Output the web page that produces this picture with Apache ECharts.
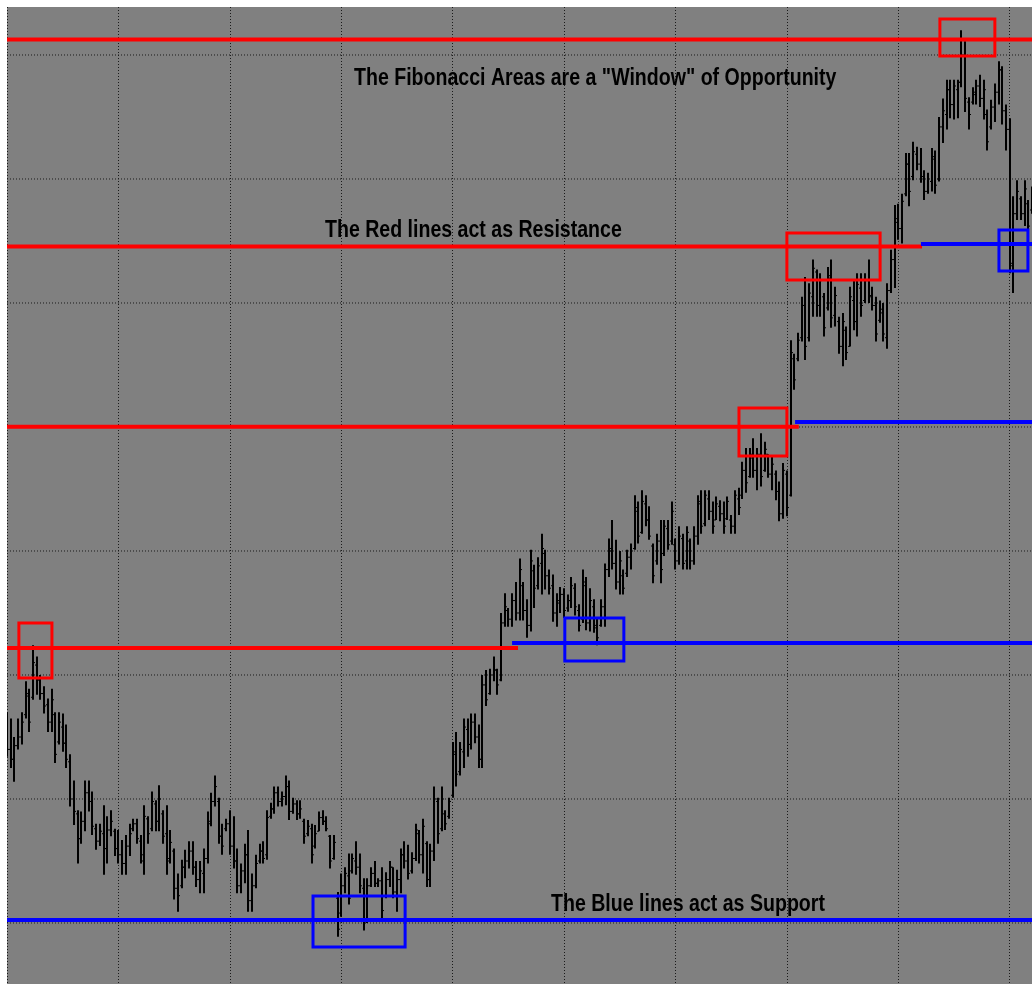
<!DOCTYPE html>
<html>
<head>
<meta charset="utf-8">
<title>Fibonacci Areas</title>
<script src="https://cdn.jsdelivr.net/npm/echarts@6.0.0/dist/echarts.min.js"></script>
<style>
  html, body { margin: 0; padding: 0; background: #fff; }
  #chart { width: 1032px; height: 984px; }
</style>
</head>
<body>
<div id="chart"></div>
<script>
// one OHLC bar per index, prices in chart units (a grid line every 100)
const opens = [
  250,240,232,243,250,268,283,282,308,296, 285,276,262,268,246,258,245,230,200,188,
  168,182,205,198,176,166,172,160,175,174, 160,155,148,162,176,180,166,150,184,176,
  196,182,188,172,152,158,128,130,145,150, 158,145,135,140,152,182,198,198,170,176,
  180,162,150,130,142,155,118,130,150,158, 155,186,192,205,198,202,210,190,196,188,
  182,172,176,162,174,185,182,170,152,120, 108,130,138,142,150,145,128,102,130,140,
  132,134,122,135,145,125,135,155,150,142, 152,172,155,164,135,158,198,176,188,186,
  203,236,222,238,256,244,262,250,232,292, 285,300,304,296,342,352,345,360,350,372,
  352,340,384,372,390,398,380,372,350,358, 365,354,360,370,352,345,372,342,355,338,
  340,355,385,400,390,375,380,382,395,402, 432,415,438,425,404,392,408,398,418,408,
  405,392,410,392,408,392,412,438,422,442, 432,425,436,430,426,425,420,442,445,465,
  460,475,465,478,465,478,462,462,448,430, 462,445,555,555,572,598,572,605,625,598,
  605,596,620,590,585,565,578,565,602,585, 612,602,618,606,598,586,592,572,610,635,
  665,660,688,712,702,720,712,702,690,698, 716,700,742,752,772,760,772,778,800,762,
  762,768,775,765,752,742,758,770,788,755, 740,630,672,684,672,680,675
];
const highs = [
  270,265,250,265,270,295,289,324,315,300, 291,281,289,270,270,269,260,236,215,191,
  190,215,215,206,180,180,195,186,191,176, 175,167,171,180,184,184,171,195,186,206,
  199,211,191,195,175,160,140,151,159,166, 166,150,150,160,190,205,219,201,180,184,
  191,186,160,148,164,175,140,155,164,166, 191,197,210,210,206,219,215,201,199,199,
  184,183,180,179,190,191,186,171,171,125, 140,145,156,156,166,156,136,136,145,150,
  136,145,141,150,145,143,160,166,163,157, 180,175,184,166,164,210,201,210,191,201,
  246,254,246,265,265,269,269,260,300,304, 305,315,305,350,366,354,366,375,394,375,
  361,401,389,395,414,401,385,381,366,371, 370,365,379,374,357,385,379,370,361,346,
  361,390,410,425,409,400,385,401,406,445, 440,449,445,436,406,414,425,425,425,440,
  410,420,414,420,410,420,445,449,449,449, 440,444,441,440,444,429,449,451,472,483,
  483,491,483,495,488,478,477,465,456,471, 465,570,559,576,605,621,616,635,627,624,
  608,629,635,613,589,592,581,613,619,624, 624,624,635,613,605,602,600,616,643,679,
  680,688,721,721,730,726,725,707,705,725, 723,750,765,780,780,780,780,820,811,766,
  774,780,784,780,756,764,777,795,791,760, 749,686,699,686,699,683,694
];
const lows = [
  234,225,214,240,244,265,254,280,284,280, 269,254,254,229,244,238,225,194,179,148,
  164,174,190,171,159,162,139,148,170,154, 148,139,139,154,174,164,148,139,164,174,
  174,174,164,139,148,119,109,128,136,144, 139,129,124,124,148,178,194,164,155,174,
  155,144,124,124,132,109,109,128,148,148, 151,184,188,194,194,195,183,188,183,184,
  164,170,148,160,174,179,174,144,151,89,  105,124,115,140,139,124,94,100,129,129,
  129,104,120,129,120,109,124,144,135,140, 150,148,140,129,129,150,164,174,175,184,
  201,210,219,225,234,240,245,225,225,275, 284,295,284,295,339,339,339,344,344,344,
  330,335,354,369,365,369,365,343,339,350, 346,351,354,348,335,342,336,335,334,324,
  339,339,379,385,369,365,365,379,385,401, 406,414,420,409,374,389,374,396,401,405,
  385,389,385,385,385,389,405,414,420,425, 414,425,424,414,425,414,414,429,442,447,
  459,459,449,452,464,459,449,441,424,426, 428,444,530,553,569,554,569,589,589,589,
  573,594,580,581,559,549,554,565,578,573, 589,600,600,594,569,584,569,563,608,612,
  651,648,686,678,699,707,697,683,688,690, 688,698,729,740,749,748,749,774,754,740,
  760,760,758,748,723,740,746,760,744,723, 624,608,667,667,662,656,672
];
const closes = [
  240,232,243,250,262,285,262,310,296,285, 275,262,280,236,262,245,232,200,190,168,
  182,205,198,178,166,174,160,175,182,160, 155,148,162,172,180,168,155,186,172,198,
  182,200,170,150,165,128,122,145,150,158, 145,135,142,152,180,198,210,170,162,180,
  162,150,130,142,155,118,130,148,158,152, 185,192,205,198,202,210,190,196,188,192,
  170,178,155,172,185,182,176,150,165,95,  130,140,120,152,145,130,100,130,140,132,
  134,110,135,145,125,135,155,150,140,152, 175,155,178,135,158,200,172,200,180,198,
  238,220,240,258,244,262,250,232,292,280, 300,304,292,342,355,345,360,350,385,352,
  340,392,370,388,402,380,370,350,360,365, 352,360,372,355,340,375,342,360,340,330,
  355,385,402,390,375,392,370,395,400,435, 412,440,425,412,380,408,385,420,405,432,
  392,412,390,415,392,412,440,420,445,432, 420,438,430,420,440,420,445,435,465,455,
  478,465,478,460,482,462,470,448,430,465, 435,560,538,570,598,565,608,628,598,618,
  580,622,588,606,565,585,560,605,585,615, 598,618,605,598,575,595,575,610,635,668,
  660,682,712,690,722,712,702,690,700,718, 695,742,755,772,760,775,778,800,765,752,
  770,775,765,772,730,758,770,788,755,740, 632,672,690,672,692,662,688
];

// horizontal dotted grid levels
const priceGrid = [100, 200, 300, 400, 500, 600, 700, 800];

// levels: [fromBar, toBar, price]
const resistance = [
  [0, 276, 812.5],
  [0, 246.4, 645.6],
  [0, 213.2, 500.2],
  [0, 137.6, 321.8]
];
const support = [
  [246.1, 276, 647.6],
  [212.2, 276, 504],
  [136, 276, 325.8],
  [0, 276, 102.4]
];

// boxes: [fromBar, toBar, lowPrice, highPrice]
const redBoxes = [
  [3.2, 12.1, 297.6, 341.9],
  [251.2, 266.0, 799.2, 829.0],
  [210.0, 235.1, 618.5, 656.5],
  [197.1, 210.0, 476.6, 515.3]
];
const blueBoxes = [
  [267.1, 274.9, 625.8, 658.9],
  [150.2, 166.1, 311.3, 346.0],
  [82.4, 107.2, 80.6, 121.8]
];

const notes = [
  'The Fibonacci Areas are a "Window" of Opportunity',
  'The Red lines act as Resistance',
  'The Blue lines act as Support'
];

const chart = echarts.init(document.getElementById('chart'));

const bars = opens.map((o, i) => [i, o, highs[i], lows[i], closes[i]]);

function renderBar(params, api) {
  const i = api.value(0);
  const hi = api.coord([i, api.value(2)]);
  const lo = api.coord([i, api.value(3)]);
  const op = api.coord([i, api.value(1)]);
  const cl = api.coord([i, api.value(4)]);
  const x = Math.round(hi[0]);
  return {
    type: 'group',
    children: [
      { type: 'line', shape: { x1: x, y1: hi[1], x2: x, y2: lo[1] }, style: { stroke: '#000', lineWidth: 2 } },
      { type: 'line', shape: { x1: x - 2, y1: op[1], x2: x, y2: op[1] }, style: { stroke: '#000', lineWidth: 1 } },
      { type: 'line', shape: { x1: x, y1: cl[1], x2: x + 2, y2: cl[1] }, style: { stroke: '#000', lineWidth: 1 } }
    ]
  };
}

function boxSeries(list, color) {
  return {
    type: 'custom',
    data: list,
    encode: { x: [0, 1], y: [2, 3] },
    z: 5,
    silent: true,
    renderItem: function (params, api) {
      const a = api.coord([api.value(0), api.value(3)]);
      const b = api.coord([api.value(1), api.value(2)]);
      return {
        type: 'rect',
        shape: { x: a[0], y: a[1], width: b[0] - a[0], height: b[1] - a[1] },
        style: { fill: 'none', stroke: color, lineWidth: 3 }
      };
    }
  };
}

function levelSeries(list, color) {
  return list.map(([a, b, p]) => ({
    type: 'line',
    data: [[a, p], [b, p]],
    symbol: 'none',
    silent: true,
    z: 4,
    lineStyle: { color: color, width: 4 }
  }));
}

// dotted horizontal grid lines, drawn under the bars
const hGrid = priceGrid.map(p => ({
  type: 'line',
  data: [[0, p], [276, p]],
  symbol: 'none',
  silent: true,
  z: 1,
  lineStyle: { color: '#1a1a1a', width: 1, type: [1, 2] }
}));

function note(text, x, y) {
  return {
    type: 'text',
    x: x, y: y,
    scaleX: 0.815,
    z: 101,
    style: {
      x: 0, y: 0,
      text: text,
      font: 'bold 24px "Liberation Sans", Arial, sans-serif',
      fill: '#000',
      align: 'left', verticalAlign: 'middle',
      textAlign: 'left', textVerticalAlign: 'middle'
    }
  };
}

const option = {
  animation: false,
  backgroundColor: '#fff',
  grid: {
    left: 7, right: 0, top: 7, bottom: 0,
    show: true, backgroundColor: '#808080', borderWidth: 0
  },
  xAxis: {
    type: 'value', min: 0, max: 276, interval: 30,
    axisLine: { show: false }, axisTick: { show: false }, axisLabel: { show: false },
    splitLine: { show: true, lineStyle: { color: '#1a1a1a', width: 1, type: [1, 2] } }
  },
  yAxis: {
    type: 'value', min: 50.8, max: 838.7,
    axisLine: { show: false }, axisTick: { show: false }, axisLabel: { show: false },
    splitLine: { show: false }
  },
  graphic: [
    note(notes[0], 354, 78),
    note(notes[1], 325, 230.5),
    note(notes[2], 551, 904)
  ],
  series: [
    ...hGrid,
    {
      type: 'custom',
      data: bars,
      encode: { x: 0, y: [1, 2, 3, 4] },
      clip: true,
      silent: true,
      z: 3,
      renderItem: renderBar
    },
    ...levelSeries(resistance, '#ff0000'),
    ...levelSeries(support, '#0000ff'),
    boxSeries(redBoxes, '#ff0000'),
    boxSeries(blueBoxes, '#0000ff')
  ]
};

chart.setOption(option);
</script>
</body>
</html>
